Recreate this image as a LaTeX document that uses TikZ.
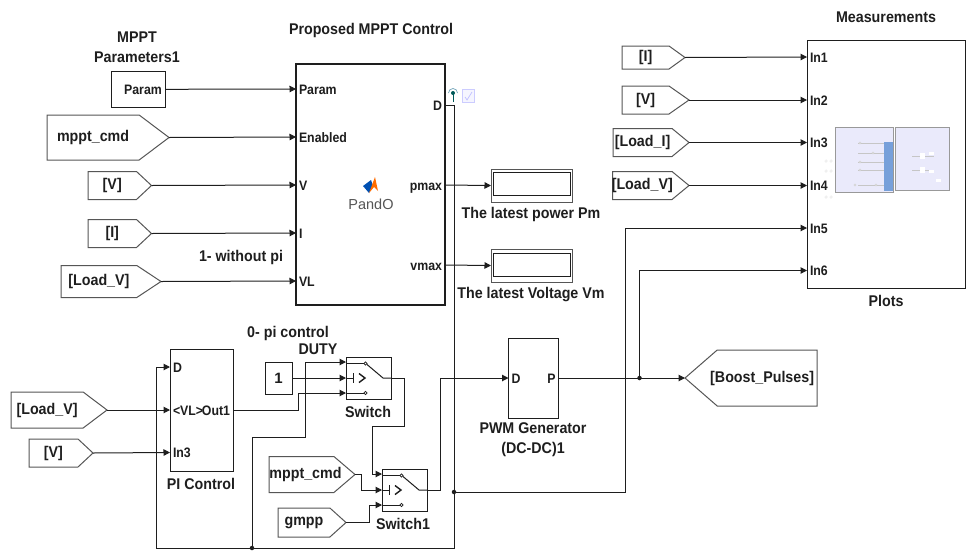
\documentclass[tikz,border=0pt]{standalone}
\usepackage{fontspec}
\setmainfont{Liberation Sans}
\newfontfamily\lablfont[FakeStretch=0.92]{Liberation Sans}
\newfontfamily\portfont[FakeStretch=0.9]{Liberation Sans}
\usetikzlibrary{arrows.meta,shapes.symbols,calc}
\definecolor{ink}{HTML}{1E1E1E}
\newcommand{\tagtxt}[1]{\makebox[20pt][c]{#1}}
\tikzset{
 wire/.style={draw=ink,line width=1pt},
 sig/.style={wire,-{Triangle[length=6.5pt,width=6.5pt]}},
 blockbox/.style={draw=ink,line width=1pt,fill=white,rectangle,inner sep=0pt,outer sep=0pt},
 bigbox/.style={blockbox,line width=1.6pt},
 lab/.style={font=\lablfont\fontsize{15.5}{20}\selectfont\bfseries,text=ink,align=center,inner sep=0pt},
 port/.style={font=\portfont\fontsize{13.7}{15}\selectfont\bfseries,text=ink,inner sep=3pt,outer sep=0pt,text height=10pt,text depth=0pt},
 gotosig/.style n args={3}{draw=ink!75,line width=1pt,fill=white,shape=signal,signal to=east,signal pointer angle=#3,minimum width=#1,minimum height=#2,inner sep=0pt,outer sep=0pt,anchor=east,font=\lablfont\fontsize{15.5}{17}\selectfont\bfseries,text=ink},
 junction/.style={circle,fill=ink,inner sep=0pt,minimum size=4.5pt},
 dispbox/.style={draw=ink!75,line width=1pt,fill=white,minimum width=81pt,minimum height=33pt,inner sep=0pt,outer sep=0pt},
 dispin/.style={draw=ink,line width=1pt,minimum width=77pt,minimum height=23pt,inner sep=0pt},
 tiny/.style={draw=gray!45,line width=0.35pt},
}
\begin{document}
\begin{tikzpicture}[x=1pt,y=-1pt]
\useasboundingbox (0,0) rectangle (968,552);
% blocks
\node[bigbox,minimum width=149pt,minimum height=241pt] (main) at (370.5,184.5) {};
\node[blockbox,minimum width=158pt,minimum height=248pt] (meas) at (886,164) {};
\node[blockbox,minimum width=54pt,minimum height=36pt] (param) at (138,89.3) {};
\node[port] (paramt) at (143,89) {Param};
\node[blockbox,minimum width=63pt,minimum height=122pt] (pi) at (201.5,410) {};
\node[blockbox,minimum width=50pt,minimum height=80pt] (pwm) at (533.5,378) {};
\node[blockbox,minimum width=27pt,minimum height=32pt,font=\fontsize{15}{15}\selectfont\bfseries,text=ink] (one) at (278.5,378) {1};
\node[blockbox,minimum width=45pt,minimum height=42pt] (sw) at (368.8,378) {};
\node[blockbox,minimum width=45pt,minimum height=42pt] (swb) at (404.5,490.5) {};
% displays
\node[dispbox] (dp) at (531.5,185.5) {};
\node[dispin] (dpi) at (531.5,184) {};
\node[dispbox] (dv) at (531.5,265.5) {};
\node[dispin] (dvi) at (531.5,264.5) {};
% goto / from tags
\node[gotosig={122pt}{45pt}{74}] (fmppt) at (169,137.5) {\tagtxt{mppt\_cmd}};
\node[gotosig={63.5pt}{28pt}{86}] (fV) at (151.5,185.5) {\tagtxt{[V]}};
\node[gotosig={63.5pt}{28pt}{86}] (fI) at (151.5,233.5) {\tagtxt{[I]}};
\node[gotosig={100pt}{32pt}{67}] (fLV) at (161,281.5) {\tagtxt{[Load\_V]}};
\node[gotosig={96pt}{36pt}{74}] (fLVb) at (107,410) {\tagtxt{[Load\_V]}};
\node[gotosig={64pt}{28pt}{86}] (fVb) at (93,453) {\tagtxt{[V]}};
\node[gotosig={86pt}{36pt}{81}] (fm2) at (355,474.5) {\hspace*{8pt}\tagtxt{mppt\_cmd}};
\node[gotosig={68pt}{29pt}{84}] (fg) at (346,522.5) {\tagtxt{gmpp}};
\node[gotosig={63pt}{23pt}{71.5}] (fIr) at (685,57.5) {\tagtxt{[I]}};
\node[gotosig={67pt}{28pt}{70}] (fVr) at (689,100) {\tagtxt{[V]}};
\node[gotosig={76pt}{28pt}{79}] (fLI) at (689,142.5) {\tagtxt{[Load\_I]}};
\node[gotosig={76.5pt}{28pt}{79}] (fLVr) at (689,185.5) {\tagtxt{[Load\_V]}};
\node[gotosig={132pt}{56pt}{82},signal to=west,anchor=west] (boost) at (685,378) {\hspace*{-10pt}\tagtxt{[Boost\_Pulses]}};
% ports
\foreach \n/\t/\y in {pParam/Param/89,pEn/Enabled/137,pV/V/185,pI/I/233,pVL/VL/281}
  \node[port,anchor=west] (\n) at (296,\y) {\t};
\node[port,anchor=east] (pD) at (445,105) {D};
\node[port,anchor=east] (pPm) at (445,185) {pmax};
\node[port,anchor=east] (pVm) at (445,265) {vmax};
\foreach \n/\t/\y in {m1/In1/57,m2/In2/100,m3/In3/142.5,m4/In4/185.5,m5/In5/228,m6/In6/270.5}
  \node[port,anchor=west] (\n) at (807,\y) {\t};
\node[port,anchor=west] (piD) at (170,367) {D};
\node[port,anchor=west] (piVL) at (170,410) {<VL>};
\node[port,anchor=east] (piOut) at (233,410) {Out1};
\node[port,anchor=west] (piIn) at (170,452.5) {In3};
\node[port,anchor=west] (pwmD) at (508.5,378) {D};
\node[port,anchor=east] (pwmP) at (558.5,378) {P};
% switch ports
\coordinate (swA) at (346,362); \coordinate (swB) at (346,378); \coordinate (swC) at (346,393);
\coordinate (swO) at (391,378);
\coordinate (sbA) at (382,474); \coordinate (sbB) at (382,490); \coordinate (sbC) at (382,505);
\coordinate (sbO) at (427,490);
\foreach \c/\dx/\dy in {a/0/0,b/36/112}{
 \begin{scope}[shift={(\dx,\dy)}]
  \draw[wire] (346,363.5) -- (364,363.5);
  \draw[wire] (346,393) -- (364,393);
  \draw[wire] (346,378) -- (353,378) (353,373) -- (353,383);
  \draw[wire] (367,364.5) -- (383,378) -- (391,378);
  \draw[ink,line width=0.6pt,fill=white] (365.5,363.5) circle (1.6pt) (365.5,393) circle (1.6pt);
  \draw[ink,line width=1.4pt] (359,373.5) -- (365,378) -- (359,382.5);
 \end{scope}}
% connectors
\draw[sig] (param.east) -- (pParam.west);
\draw[sig] (fmppt.east) -- (pEn.west);
\draw[sig] (fV.east) -- (pV.west);
\draw[sig] (fI.east) -- (pI.west);
\draw[sig] (fLV.east) -- (pVL.west);
\draw[sig] (pPm.east) -- (dp.west);
\draw[sig] (pVm.east) -- (dv.west);
\draw[sig] (fIr.east) -- (m1.west);
\draw[sig] (fVr.east) -- (m2.west);
\draw[sig] (fLI.east) -- (m3.west);
\draw[sig] (fLVr.east) -- (m4.west);
\draw[sig] (fLVb.east) -- (piVL.west);
\draw[sig] (fVb.east) -- (piIn.west);
\node[junction] (jD) at (454,492) {};
\node[junction] (jB) at (252,548) {};
\node[junction] (jP) at (639.5,378) {};
\draw[wire] (pD.east) -- (454,105) -- (jD.center);
\draw[wire] (jD.center) -- (454,548) -- (jB.center);
\draw[sig] (jB.center) -- (156.5,548) -- (156.5,367) -- (piD.west);
\draw[sig] (jB.center) -- (252,437) -- (305,437) -- (305,362) -- (swA);
\draw[sig] (jD.center) -- (625,492) -- (625,228) -- (m5.west);
\draw[sig] (piOut.east) -- (298,410) -- (298,393) -- (swC);
\draw[sig] (one.east) -- (swB);
\draw[sig] (swO) -- (404,378) -- (404,426) -- (372,426) -- (372,474) -- (sbA);
\draw[sig] (fm2.east) -- (361.5,474.5) -- (361.5,490) -- (sbB);
\draw[sig] (fg.east) -- (369,522.5) -- (369,505) -- (sbC);
\draw[sig] (sbO) -- (440,490) -- (440,378) -- (pwmD.west);
\draw[sig] (pwmP.east) -- (boost.west);
\draw[sig] (jP.center) -- (639.5,270.5) -- (m6.west);
% labels
\node[lab] (l1) at (137,47) {MPPT\\Parameters1};
\node[lab] (l2) at (371,30) {Proposed MPPT Control};
\node[lab] (l3) at (886,17) {Measurements};
\node[lab] (l4) at (886,301) {Plots};
\node[lab] (l5) at (241,257) {1- without pi};
\node[lab] (l6) at (288,333) {0- pi control};
\node[lab] (l7) at (318,349) {DUTY};
\node[lab] (l8) at (368,412) {Switch};
\node[lab] (l9) at (403,524) {Switch1};
\node[lab] (l10) at (201,484) {PI Control};
\node[lab] (l11) at (533,440) {PWM Generator\\(DC-DC)1};
\node[lab] (l12) at (531,214) {The latest power Pm};
\node[lab] (l13) at (531,295) {The latest Voltage Vm};
% MATLAB mark and caption
\fill[blue!55!cyan!70!black] (363,186) -- (371,180) -- (373,186) -- (369,193) -- cycle;
\fill[orange!85!red] (369,193) -- (375,177) -- (378,191) -- (374,187) -- cycle;
\node[font=\fontsize{14.5}{16}\selectfont,text=ink!75,inner sep=0pt] (pando) at (371,204) {PandO};
% signal badge
\fill[teal!70!black] (453,93) circle (2pt);
\draw[teal!70!black,line width=1pt] (453,93) -- (453,102);
\draw[cyan!40!gray,line width=0.7pt] (448.5,93) arc (180:360:4.5);
\draw[blue!20,line width=0.8pt,fill=blue!4] (462,89) rectangle (474,102);
\draw[blue!25,line width=0.7pt] (465,97) -- (467,100) -- (472,92);
% thumbnail
\definecolor{thumbfill}{HTML}{EAEAFB}
\draw[gray!80,line width=1pt,fill=thumbfill] (835,127) rectangle (893,192);
\draw[gray!80,line width=1pt,fill=thumbfill] (895,127) rectangle (949,190);
\fill[cyan!50!blue!55] (884,142) rectangle (892.5,191);
\foreach \y in {143,153,162,170,185}
  \draw[tiny] (858,\y) -- (884,\y);
\foreach \x/\y in {860/143,873/153,860/162,860/170,855/185,876/185}
  \draw[tiny,fill=white] (\x,\y) circle (1.2pt);
\foreach \y in {156,170}{
  \draw[tiny] (912,\y) -- (934,\y);
  \fill[white] (920,\y-3) rectangle (925,\y+3);}
\fill[white] (929,152) rectangle (934,155);
\fill[white] (929,170) rectangle (934,173);
\fill[white] (936,179) rectangle (941,182);
\foreach \y in {161,171,197}
  \draw[gray!25,line width=0.3pt] (826,\y) circle (1.3pt) (831,\y) circle (1.3pt);
\end{tikzpicture}
\end{document}
